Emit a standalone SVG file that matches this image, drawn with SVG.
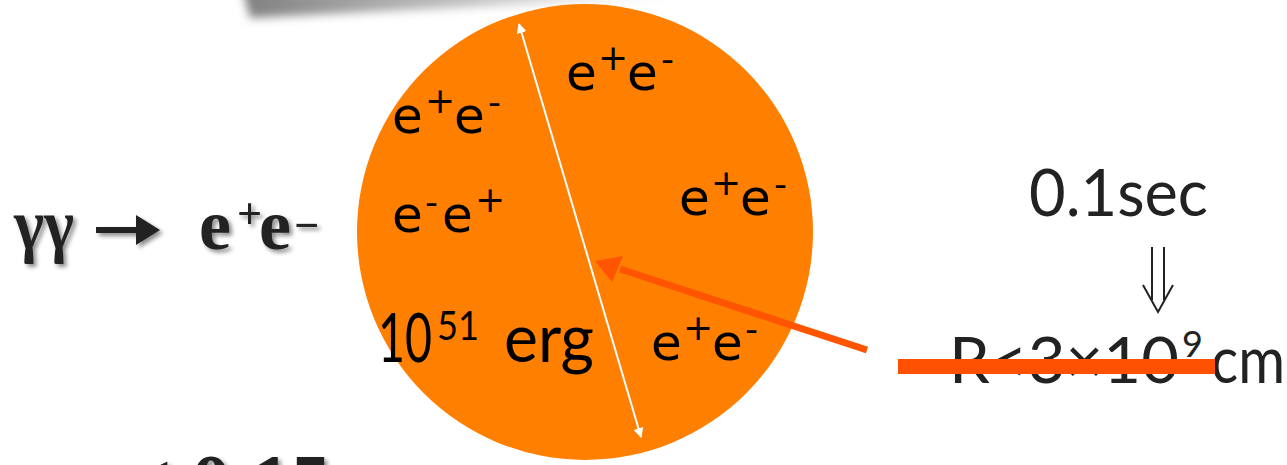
<svg xmlns="http://www.w3.org/2000/svg" width="1287" height="465" viewBox="0 0 1287 465">
<defs>
<style>
.pe{font-family:"DejaVu Sans",Verdana,sans-serif;fill:#000}
.big{font-size:50px}
.sup{font-size:36px}
.gs{font-family:Lato,"Open Sans",sans-serif;fill:#222}
.tm{font-family:"Liberation Serif","Times New Roman",serif;font-weight:bold;fill:#222}
</style>
<linearGradient id="sh" x1="0" y1="0" x2="1" y2="0">
<stop offset="0" stop-color="#777" stop-opacity="0.95"/>
<stop offset="0.5" stop-color="#999" stop-opacity="0.6"/>
<stop offset="1" stop-color="#bbb" stop-opacity="0"/>
</linearGradient>
<filter id="blur" x="-20%" y="-200%" width="140%" height="500%"><feGaussianBlur stdDeviation="5"/></filter>
<filter id="ts" x="-10%" y="-10%" width="130%" height="130%"><feDropShadow dx="3" dy="3" stdDeviation="2" flood-color="#000" flood-opacity="0.45"/></filter>
<marker id="wh" viewBox="0 0 10 10" refX="9" refY="5" markerWidth="5" markerHeight="5" orient="auto-start-reverse" markerUnits="strokeWidth"><path d="M0,0 L10,5 L0,10 z" fill="#fff"/></marker>
</defs>
<rect width="1287" height="465" fill="#fff"/>
<polygon points="240,-20 700,-20 660,-2 450,8 250,18" fill="url(#sh)" filter="url(#blur)"/>

<g id="ball">
<circle cx="585" cy="232" r="228" fill="#FF7F00"/>
</g>

<g id="connectors">
<line x1="519" y1="24" x2="641" y2="437" stroke="#fff" stroke-width="2" marker-start="url(#wh)" marker-end="url(#wh)"/>
<line x1="867" y1="350" x2="620" y2="269" stroke="#FF5500" stroke-width="7"/>
<polygon points="595,261 623,256 612,282" fill="#FF5500"/>
</g>

<g id="pair-top" class="pe">
<text class="big" x="566" y="90">e</text><text class="sup" x="598" y="70">+</text><text class="big" x="627" y="90">e</text><text class="sup" x="661" y="71">-</text>
</g>
<g id="pair-ul" class="pe">
<text class="big" x="392" y="133">e</text><text class="sup" x="425" y="113">+</text><text class="big" x="454" y="133">e</text><text class="sup" x="488" y="114">-</text>
</g>
<g id="pair-ml" class="pe">
<text class="big" x="392" y="232">e</text><text class="sup" x="425" y="214">-</text><text class="big" x="442" y="232">e</text><text class="sup" x="475" y="212">+</text>
</g>
<g id="pair-r" class="pe">
<text class="big" x="679" y="215">e</text><text class="sup" x="711" y="195">+</text><text class="big" x="740" y="215">e</text><text class="sup" x="774" y="196">-</text>
</g>
<g id="pair-br" class="pe">
<text class="big" x="651" y="360">e</text><text class="sup" x="683" y="340">+</text><text class="big" x="712" y="360">e</text><text class="sup" x="745" y="341">-</text>
</g>
<g id="energy">
<text class="gs" x="378" y="362" font-size="68" style="fill:#000" textLength="54" lengthAdjust="spacingAndGlyphs">10</text>
<text class="gs" x="437" y="340" font-size="40" style="fill:#000" textLength="42" lengthAdjust="spacingAndGlyphs">51</text>
<text class="gs" x="504" y="362" font-size="68" style="fill:#000" textLength="90" lengthAdjust="spacingAndGlyphs">erg</text>
</g>

<g id="reaction" filter="url(#ts)">
<text class="tm" x="14" y="249" font-size="72" textLength="60" lengthAdjust="spacingAndGlyphs">γγ</text>
<rect x="96" y="227" width="43" height="6" fill="#222"/>
<polygon points="136,215 160,230 136,245" fill="#222"/>
<text class="tm" x="199" y="249" font-size="72">e</text>
<text class="tm" x="237" y="228" font-size="44">+</text>
<text class="tm" x="259" y="249" font-size="72">e</text>
<text class="tm" x="294" y="240" font-size="44">−</text>
</g>
<g id="bottom-note" filter="url(#ts)">
<text class="tm" x="127" y="510" font-size="80">≤ 0.15</text>
</g>

<g id="time">
<text class="gs" x="1029" y="216" font-size="66" textLength="179" lengthAdjust="spacingAndGlyphs">0.1sec</text>
</g>
<g id="implies" stroke="#222" stroke-width="2" fill="none">
<line x1="1152" y1="247" x2="1152" y2="300"/>
<line x1="1164" y1="247" x2="1164" y2="300"/>
<polyline points="1143,285 1158,312 1173,285"/>
</g>
<g id="radius">
<text class="gs" x="949" y="383" font-size="64" textLength="230" lengthAdjust="spacingAndGlyphs">R&lt;3×10</text>
<text class="gs" x="1182" y="357" font-size="36">9</text>
<text class="gs" x="1211" y="383" font-size="64" textLength="74" lengthAdjust="spacingAndGlyphs">cm</text>
<rect x="898" y="359" width="317" height="15" fill="#FF4F00"/>
</g>
</svg>
